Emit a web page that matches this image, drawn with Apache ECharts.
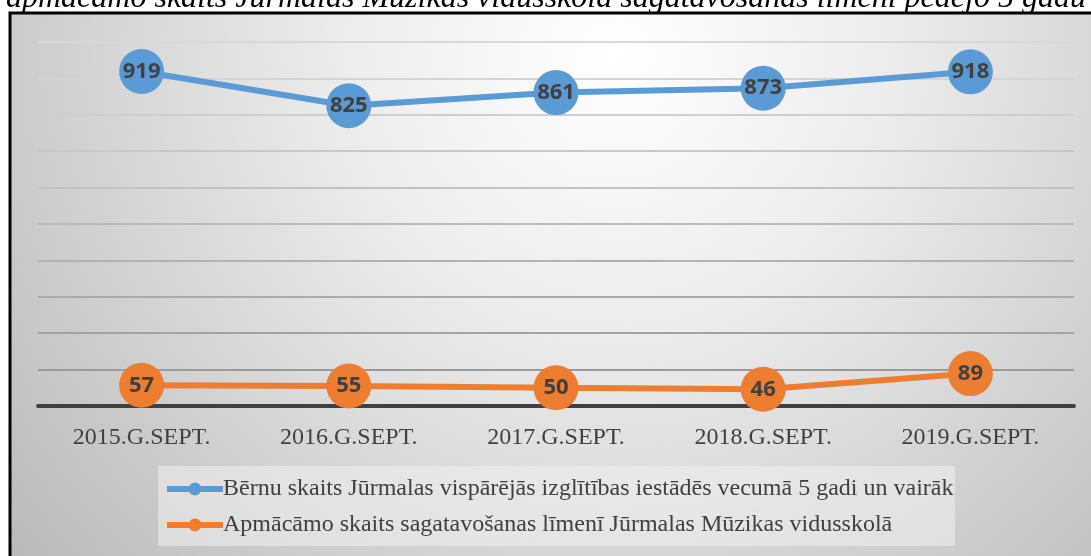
<!DOCTYPE html>
<html>
<head>
<meta charset="utf-8">
<script src="https://cdn.jsdelivr.net/npm/echarts@6/dist/echarts.min.js"></script>
<style>
  html, body { margin: 0; padding: 0; background: #fff; }
  #chart { width: 1091px; height: 556px; }
</style>
</head>
<body>
<div id="chart"></div>
<script>
const titleText = "apmācāmo skaits Jūrmalas Mūzikas vidusskolā sagatavošanas līmenī pēdējo 5 gadu";
const categories = ["2015.G.SEPT.", "2016.G.SEPT.", "2017.G.SEPT.", "2018.G.SEPT.", "2019.G.SEPT."];
const seriesNames = [
    "Bērnu skaits Jūrmalas vispārējās izglītības iestādēs vecumā 5 gadi un vairāk",
    "Apmācāmo skaits sagatavošanas līmenī Jūrmalas Mūzikas vidusskolā"
];
const childrenValues = [919, 825, 861, 873, 918];
const studentValues = [57, 55, 50, 46, 89];

const colors = ["#5B9BD5", "#ED7D31"];
const chart = echarts.init(document.getElementById("chart"));

const makeSeries = (name, data, color) => ({
    name: name,
    type: "line",
    data: data,
    symbol: "circle",
    symbolSize: 45,
    itemStyle: { color: color },
    lineStyle: { color: color, width: 6 },
    label: {
        show: true,
        position: "inside",
        color: "#404040",
        fontFamily: "Open Sans",
        fontWeight: "bold",
        fontSize: 22
    },
    emphasis: { disabled: true }
});

const option = {
    animation: false,
    title: {
        text: titleText,
        left: 1,
        top: -22,
        textStyle: {
            fontFamily: "Liberation Serif",
            fontStyle: "italic",
            fontWeight: "normal",
            fontSize: 32,
            color: "#000"
        }
    },
    graphic: [
        {
            type: "rect",
            z: -10,
            shape: { x: 10, y: 13, width: 1081, height: 543 },
            style: {
                fill: {
                    type: "radial",
                    x: 0.56, y: 0.08, r: 1.45,
                    colorStops: [
                        { offset: 0, color: "#ffffff" },
                        { offset: 0.35, color: "#ececec" },
                        { offset: 1, color: "#b9b9b9" }
                    ]
                }
            }
        },
        {
            type: "polyline",
            z: 10,
            shape: { points: [[10, 556], [10, 13], [1091, 13]] },
            style: { stroke: "#000", lineWidth: 3, fill: null }
        },
        {
            type: "rect",
            z: -5,
            shape: { x: 158, y: 466, width: 797, height: 80 },
            style: { fill: "rgba(240,240,240,0.55)" }
        }
    ],
    color: colors,
    grid: { left: 38, right: 17, top: 42, bottom: 150 },
    legend: {
        orient: "vertical",
        left: 159,
        top: 472,
        itemWidth: 56,
        itemHeight: 16,
        itemGap: 12,
        data: seriesNames,
        lineStyle: { width: 6 },
        textStyle: {
            fontFamily: "Liberation Serif",
            fontSize: 24,
            color: "#404040",
            padding: [0, 0, 0, -5]
        }
    },
    xAxis: {
        type: "category",
        data: categories,
        boundaryGap: true,
        axisTick: { show: false },
        axisLine: { lineStyle: { color: "#404040", width: 4 } },
        axisLabel: {
            margin: 20,
            fontFamily: "Liberation Serif",
            fontSize: 24,
            color: "#404040"
        }
    },
    yAxis: {
        type: "value",
        min: 0,
        max: 1000,
        interval: 100,
        axisLabel: { show: false },
        axisLine: { show: false },
        axisTick: { show: false },
        splitLine: {
            lineStyle: {
                width: 2,
                color: ["#9a9a9a", "#9a9a9a", "#a2a2a2", "#aaaaaa", "#b2b2b2", "#bababa",
                        "#c2c2c2", "#c8c8c8", "#cecece", "#d4d4d4", "#d8d8d8"]
            }
        }
    },
    series: [
        makeSeries(seriesNames[0], childrenValues, colors[0]),
        makeSeries(seriesNames[1], studentValues, colors[1])
    ]
};
chart.setOption(option);
</script>
</body>
</html>
